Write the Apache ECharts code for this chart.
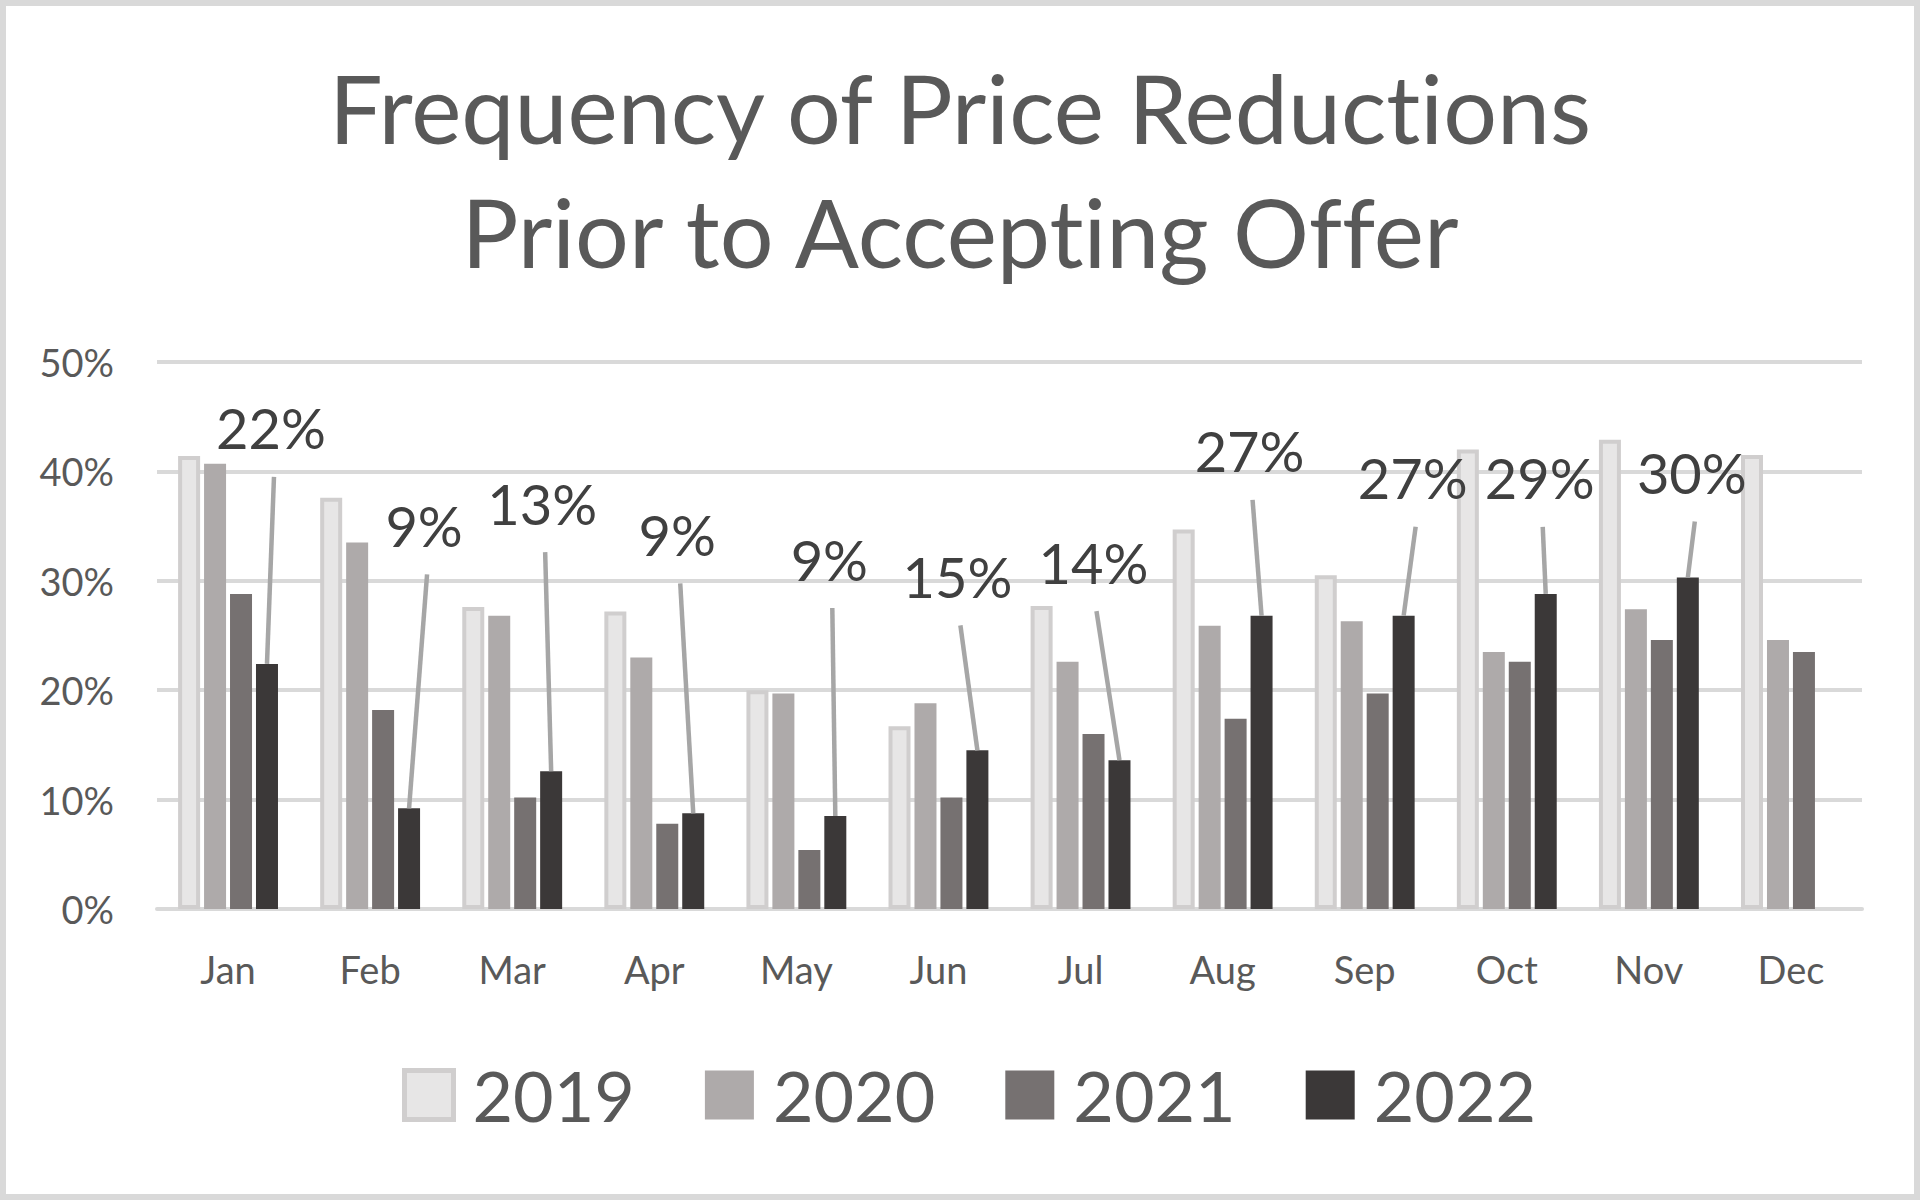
<!DOCTYPE html>
<html>
<head>
<meta charset="utf-8">
<script src="https://cdn.jsdelivr.net/npm/echarts@6/dist/echarts.min.js"></script>
<style>
html,body{margin:0;padding:0;background:#fff;}
#chart{width:1920px;height:1200px;font-variant-ligatures:none;}
#chart text{font-variant-ligatures:none;}
</style>
</head>
<body>
<div id="chart"></div>
<script>
// ---- data ----
const months = ['Jan','Feb','Mar','Apr','May','Jun','Jul','Aug','Sep','Oct','Nov','Dec'];
const seriesNames = ['2019','2020','2021','2022'];
const y2019 = [41.4, 37.6, 27.6, 27.2, 20.0, 16.7, 27.7, 34.7, 30.5, 42.0, 42.9, 41.5];
const y2020 = [40.7, 33.5, 26.8, 23.0, 19.7, 18.8, 22.6, 25.9, 26.3, 23.5, 27.4, 24.6];
const y2021 = [28.8, 18.2, 10.2, 7.8, 5.4, 10.2, 16.0, 17.4, 19.7, 22.6, 24.6, 23.5];
const y2022 = [22.4, 9.2, 12.6, 8.75, 8.5, 14.5, 13.6, 26.8, 26.8, 28.8, 30.3, null];
const yTicks = [0, 10, 20, 30, 40, 50];

// ---- styles / label placement (px offsets of 2022 callouts from bar top) ----
const labelDX = [4, 15, -9, -16, -6, -20, -26, -12, 9, -6, 4, 0];
const labelDY = [-236, -283, -268, -279, -257, -174, -198, -165, -138, -116, -105, 0];
const colors = ['#E7E6E6', '#AEAAAA', '#767171', '#3B3838'];
const BAR_W = 22;
const BAR_GAP = 0.18;
const FONT = 'Lato';

const chart = echarts.init(document.getElementById('chart'), null, { renderer: 'svg' });
const dataSets = [y2019, y2020, y2021, y2022];

const barSeries = dataSets.map((d, k) => ({
  name: seriesNames[k],
  type: 'bar',
  data: d,
  barWidth: BAR_W,
  barGap: (BAR_GAP * 100) + '%',
  itemStyle: k === 0
    ? { color: colors[0], borderColor: '#D0CECE', borderWidth: 4 }
    : { color: colors[k] },
  emphasis: { disabled: true },
  silent: true,
  z: 2
}));

const offset2022 = 1.5 * (BAR_W + BAR_W * BAR_GAP);

const labelSeries = {
  type: 'custom',
  name: 'labels2022',
  data: y2022.map((v, i) => [i, v]).filter(p => p[1] != null),
  z: 5,
  silent: true,
  renderItem: function (params, api) {
    const i = api.value(0), v = api.value(1);
    const p = api.coord([i, v]);
    const x0 = p[0] + offset2022;
    const dx = labelDX[i], dy = labelDY[i];
    return {
      type: 'group',
      children: [
        { type: 'line',
          shape: { x1: x0, y1: p[1], x2: x0 + dx + 3, y2: p[1] + dy + 49 },
          style: { stroke: '#A6A6A6', lineWidth: 4.5 } },
        { type: 'text',
          style: { text: Math.round(v) + '%', x: x0 + dx, y: p[1] + dy,
                   align: 'center', verticalAlign: 'middle',
                   fontFamily: FONT, fontSize: 56, fill: '#404040' } }
      ]
    };
  }
};

chart.setOption({
  backgroundColor: '#fff',
  animation: false,
  title: {
    text: 'Frequency of Price Reductions\nPrior to Accepting Offer',
    left: 'center',
    top: 40,
    textStyle: { fontFamily: FONT, fontSize: 95, fontWeight: 'normal', color: '#595959', lineHeight: 124 }
  },
  graphic: [{
    type: 'rect', silent: true,
    shape: { x: 3, y: 3, width: 1914, height: 1194 },
    style: { fill: 'none', stroke: '#D9D9D9', lineWidth: 6 }
  }],
  legend: {
    top: 1055,
    left: 397,
    itemWidth: 49,
    itemHeight: 49,
    itemGap: 70,
    icon: 'rect',
    selectedMode: false,
    textStyle: { fontFamily: FONT, fontSize: 70, color: '#595959', padding: [0, 0, 12, 14] },
    data: seriesNames.map((n, k) => ({
      name: n,
      itemStyle: k === 0
        ? { color: colors[0], borderColor: '#D0CECE', borderWidth: 5 }
        : { color: colors[k], borderWidth: 0 }
    }))
  },
  grid: { left: 157, right: 58, top: 362, bottom: 291, containLabel: false },
  xAxis: {
    type: 'category',
    data: months,
    axisLine: { lineStyle: { color: '#D9D9D9', width: 4 } },
    axisTick: { show: false },
    axisLabel: { fontFamily: FONT, fontSize: 38, color: '#595959', margin: 41 }
  },
  yAxis: {
    type: 'value',
    min: yTicks[0],
    max: yTicks[yTicks.length - 1],
    interval: yTicks[1] - yTicks[0],
    axisLine: { show: false },
    axisTick: { show: false },
    splitLine: { lineStyle: { color: '#D9D9D9', width: 4 } },
    axisLabel: { fontFamily: FONT, fontSize: 38, color: '#595959', margin: 43, padding: [0, 0, 5, 0], formatter: '{value}%' }
  },
  series: barSeries.concat([labelSeries])
});
</script>
</body>
</html>
